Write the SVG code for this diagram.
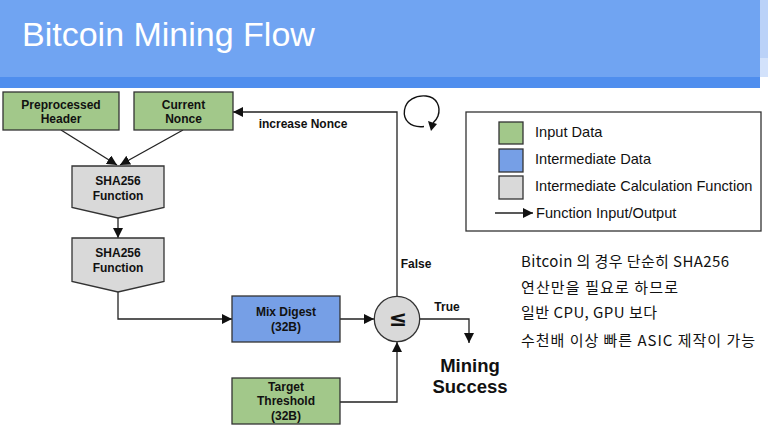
<svg xmlns="http://www.w3.org/2000/svg" width="768" height="432" viewBox="0 0 768 432">
<defs>
<marker id="ah" viewBox="0 0 10 10" refX="10" refY="5" markerWidth="10" markerHeight="10" markerUnits="userSpaceOnUse" orient="auto"><path d="M0,0 L10,5 L0,10 z" fill="#111"/></marker>
<style>
.lbl{font-family:"Liberation Sans",Arial,sans-serif;font-weight:bold;font-size:12px;fill:#111;text-anchor:middle}
.edge{fill:none;stroke:#222;stroke-width:1.3}
.green{fill:#A2C88A;stroke:#333;stroke-width:1.3}
.blue{fill:#769FE6;stroke:#333;stroke-width:1.3}
.gray{fill:#D9D9D9;stroke:#333;stroke-width:1.3}
.leg{font-family:"Liberation Sans",Arial,sans-serif;font-size:14.6px;fill:#111}
.kr{font-family:"Noto Sans CJK KR","Liberation Sans",sans-serif;font-size:15px;fill:#111}
</style>
</defs>
<rect x="0" y="0" width="768" height="432" fill="#fff"/>
<rect x="760" y="0" width="8" height="58" fill="#BBD2F8"/>
<rect x="760" y="58" width="8" height="19" fill="#D3E2FB"/>
<rect x="0" y="0" width="760" height="77" fill="#70A4F2"/>
<rect x="0" y="77" width="760" height="11" fill="#4F8EEE"/>
<text x="22" y="46" font-family="'Liberation Sans',Arial,sans-serif" font-size="34" fill="#fff">Bitcoin Mining Flow</text>

<g id="edges">
<path class="edge" d="M61,130 L117,165" marker-end="url(#ah)"/>
<path class="edge" d="M183,130 L120,165" marker-end="url(#ah)"/>
<path class="edge" d="M118,218 L118,238" marker-end="url(#ah)"/>
<path class="edge" d="M118,292 L118,319 L232,319" marker-end="url(#ah)"/>
<path class="edge" d="M340,319 L374,319" marker-end="url(#ah)"/>
<path class="edge" d="M340,402 L397,402 L397,342" marker-end="url(#ah)"/>
<path class="edge" d="M419.7,319 L469,319 L469,343" marker-end="url(#ah)"/>
<path class="edge" d="M397,296 L397,112 L233,112" marker-end="url(#ah)"/>
<text class="lbl" x="303" y="128">increase Nonce</text>
<text class="lbl" x="416" y="268">False</text>
<text class="lbl" x="447" y="311">True</text>
</g>

<g id="loop-icon">
<path d="M424,126.5 C410,128 403,120 404.5,110 C406,100 416,95 426,96 C437,97 441,107 438,116 C437,119 435,121 433,123" fill="none" stroke="#111" stroke-width="1.4"/>
<path d="M428,121 L437,124 L431,131 z" fill="#111"/>
</g>

<g id="preprocessed-header">
<rect class="green" x="3" y="92" width="116" height="38"/>
<text class="lbl" x="61" y="109">Preprocessed</text>
<text class="lbl" x="61" y="123">Header</text>
</g>
<g id="current-nonce">
<rect class="green" x="134" y="92" width="99" height="38"/>
<text class="lbl" x="183.5" y="109">Current</text>
<text class="lbl" x="183.5" y="123">Nonce</text>
</g>
<g id="sha256-1">
<path class="gray" d="M72,166 L164,166 L164,207.5 L118,218 L72,207.5 z"/>
<text class="lbl" x="118" y="185">SHA256</text>
<text class="lbl" x="118" y="200">Function</text>
</g>
<g id="sha256-2">
<path class="gray" d="M72,238 L164,238 L164,281.5 L118,292 L72,281.5 z"/>
<text class="lbl" x="118" y="257">SHA256</text>
<text class="lbl" x="118" y="272">Function</text>
</g>
<g id="mix-digest">
<rect class="blue" x="232" y="296" width="108" height="46"/>
<text class="lbl" x="286" y="316">Mix Digest</text>
<text class="lbl" x="286" y="331">(32B)</text>
</g>
<g id="target-threshold">
<rect class="green" x="232" y="378" width="108" height="46"/>
<text class="lbl" x="286" y="391">Target</text>
<text class="lbl" x="286" y="405">Threshold</text>
<text class="lbl" x="286" y="420">(32B)</text>
</g>
<g id="compare">
<circle class="gray" cx="397" cy="319" r="22.7"/>
<text x="398" y="326" font-family="'DejaVu Sans','Liberation Sans',sans-serif" font-weight="bold" font-size="22" fill="#111" text-anchor="middle">≤</text>
</g>
<g id="mining-success">
<text class="lbl" x="470" y="372" style="font-size:18.5px">Mining</text>
<text class="lbl" x="470" y="393" style="font-size:18.5px">Success</text>
</g>

<g id="legend">
<rect x="466" y="112" width="295" height="119" fill="#fff" stroke="#333" stroke-width="1.3"/>
<rect class="green" x="499" y="122" width="24" height="22"/>
<rect class="blue" x="499" y="149" width="24" height="23"/>
<rect class="gray" x="499" y="176" width="24" height="23"/>
<text class="leg" x="535" y="137">Input Data</text>
<text class="leg" x="535" y="164">Intermediate Data</text>
<text class="leg" x="535" y="191">Intermediate Calculation Function</text>
<path class="edge" d="M495,213 L533,213" marker-end="url(#ah)"/>
<text class="leg" x="536" y="218">Function Input/Output</text>
</g>

<g id="note">
<text class="kr" x="521" y="267" textLength="208" lengthAdjust="spacing">Bitcoin 의 경우 단순히 SHA256</text>
<text class="kr" x="521" y="293" textLength="157" lengthAdjust="spacing">연산만을 필요로 하므로</text>
<text class="kr" x="521" y="318" textLength="136" lengthAdjust="spacing">일반 CPU, GPU 보다</text>
<text class="kr" x="521" y="346" textLength="234" lengthAdjust="spacing">수천배 이상 빠른 ASIC 제작이 가능</text>
</g>
</svg>
